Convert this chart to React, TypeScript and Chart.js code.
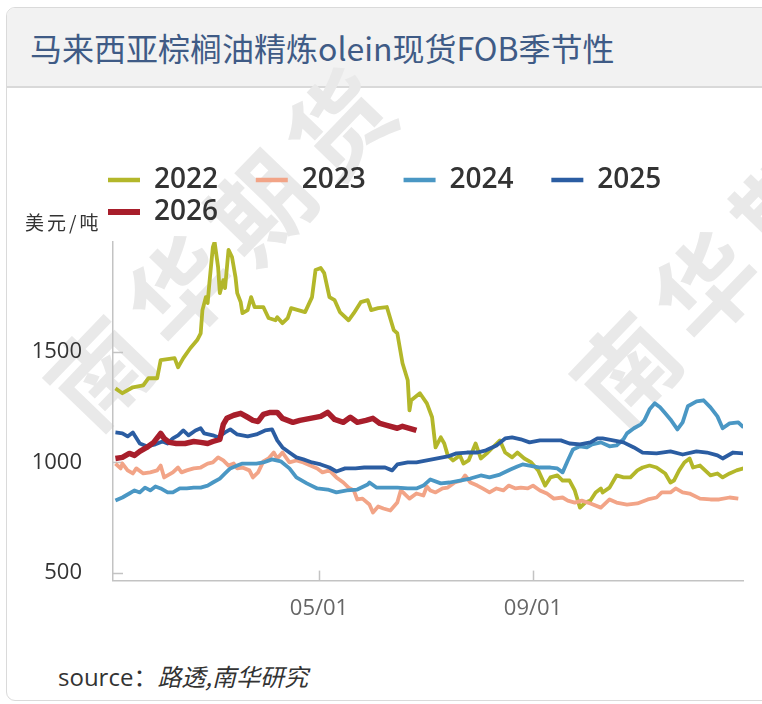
import React, { useEffect, useRef } from 'react';
import { Chart, registerables } from 'chart.js';

Chart.register(...registerables);

// ---- data (day of year, USD/t) ----
const seriesLabels = ['2022', '2023', '2024', '2025', '2026'];
const seriesColors = ['#b3b72a', '#f2a487', '#4a97c4', '#2b5da2', '#a81e2b'];
const seriesWidths = [3.8, 3.8, 3.8, 3.8, 5.5];

const s2022: [number, number][] = [
  [3, 1336], [7, 1314], [13, 1341], [19, 1350], [22, 1382], [27, 1382], [29, 1464], [37, 1473], [39, 1432], [42, 1473],
  [46, 1518], [50, 1555], [52, 1586], [53, 1691], [55, 1750], [56, 1723], [57, 1814], [59, 1977], [60, 2000], [62, 1886],
  [63, 1768], [65, 1827], [66, 1791], [68, 1964], [70, 1932], [72, 1841], [73, 1768], [75, 1727], [76, 1677], [79, 1691],
  [81, 1750], [83, 1705], [88, 1705], [91, 1655], [95, 1645], [96, 1659], [99, 1632], [102, 1655], [104, 1700], [108, 1691],
  [112, 1682], [116, 1750], [118, 1873], [121, 1882], [123, 1859], [126, 1750], [129, 1736], [132, 1682], [137, 1645], [140, 1677],
  [144, 1727], [148, 1736], [150, 1691], [154, 1700], [159, 1705], [163, 1600], [165, 1586], [168, 1450], [171, 1373], [172, 1236],
  [173, 1282], [178, 1314], [182, 1268], [185, 1205], [187, 1068], [190, 1114], [192, 1086], [194, 1032], [197, 1009], [201, 1032],
  [203, 995], [206, 1009], [210, 1086], [213, 1018], [217, 1045], [221, 1077], [224, 1100], [227, 1045], [231, 1023], [234, 1045],
  [238, 1018], [242, 1000], [246, 964], [250, 895], [253, 932], [257, 941], [260, 918], [264, 918], [267, 873], [270, 795],
  [273, 818], [276, 827], [279, 864], [282, 882], [283, 864], [287, 886], [291, 941], [295, 932], [299, 932], [303, 964],
  [306, 977], [310, 986], [314, 977], [319, 950], [322, 909], [324, 918], [327, 964], [330, 1000], [333, 1018], [335, 977],
  [339, 986], [345, 941], [349, 950], [352, 932], [356, 950], [360, 964], [364, 973],
];

const s2023: [number, number][] = [
  [3, 995], [6, 973], [7, 995], [10, 964], [13, 950], [15, 973], [19, 950], [23, 955], [27, 964], [29, 986],
  [31, 932], [36, 955], [39, 977], [41, 955], [44, 964], [48, 973], [52, 977], [56, 995], [59, 1000], [62, 1023],
  [65, 1009], [68, 986], [71, 995], [73, 973], [76, 977], [80, 964], [82, 932], [85, 955], [88, 1005], [91, 1018],
  [94, 1045], [96, 1018], [99, 1045], [103, 1000], [107, 1009], [111, 1000], [115, 986], [119, 973], [122, 955], [126, 964],
  [130, 932], [134, 909], [137, 886], [140, 873], [142, 832], [145, 836], [149, 809], [151, 773], [154, 800], [157, 791],
  [161, 782], [165, 818], [167, 873], [169, 859], [172, 836], [176, 859], [180, 850], [182, 891], [184, 873], [187, 864],
  [191, 882], [194, 886], [198, 909], [202, 918], [204, 941], [207, 909], [211, 895], [214, 882], [218, 864], [222, 882],
  [226, 873], [229, 895], [233, 882], [236, 886], [240, 882], [243, 895], [247, 873], [251, 859], [255, 836], [260, 841],
  [263, 827], [267, 818], [271, 827], [276, 814], [282, 795], [287, 832], [291, 818], [297, 809], [303, 814], [309, 832],
  [314, 841], [317, 864], [322, 864], [325, 882], [329, 864], [333, 859], [339, 836], [345, 832], [350, 832], [356, 841],
  [361, 836],
];

const s2024: [number, number][] = [
  [3, 827], [7, 841], [11, 859], [14, 873], [17, 864], [20, 886], [23, 873], [26, 891], [29, 882], [33, 864],
  [36, 864], [40, 882], [44, 882], [48, 886], [52, 886], [56, 895], [59, 909], [63, 927], [66, 950], [69, 973],
  [73, 986], [76, 995], [80, 995], [84, 995], [88, 1000], [93, 1014], [98, 1005], [103, 973], [107, 932], [113, 905],
  [119, 882], [125, 877], [130, 864], [136, 873], [142, 877], [148, 900], [149, 909], [153, 886], [159, 886], [165, 886],
  [171, 882], [176, 882], [180, 895], [184, 923], [190, 905], [195, 909], [201, 918], [207, 927], [213, 941], [218, 932],
  [224, 945], [230, 968], [234, 982], [237, 991], [241, 986], [247, 977], [253, 977], [257, 973], [260, 955], [263, 1009],
  [266, 1059], [270, 1073], [274, 1068], [277, 1082], [282, 1091], [287, 1073], [291, 1077], [295, 1105], [297, 1132], [301, 1155],
  [305, 1173], [307, 1191], [310, 1241], [313, 1268], [316, 1250], [319, 1223], [322, 1195], [326, 1150], [329, 1182], [332, 1255],
  [337, 1277], [341, 1282], [345, 1250], [349, 1209], [352, 1155], [356, 1177], [361, 1182], [364, 1159],
];

const s2025: [number, number][] = [
  [3, 1136], [7, 1132], [10, 1118], [13, 1136], [14, 1123], [17, 1086], [21, 1073], [26, 1082], [30, 1095], [33, 1086],
  [36, 1109], [39, 1123], [42, 1145], [45, 1123], [49, 1145], [52, 1155], [54, 1132], [59, 1123], [62, 1114], [66, 1136],
  [69, 1150], [73, 1127], [79, 1118], [84, 1127], [89, 1145], [93, 1150], [96, 1100], [99, 1068], [103, 1045], [107, 1023],
  [111, 1014], [116, 1000], [121, 991], [126, 977], [130, 959], [135, 973], [141, 973], [146, 977], [152, 977], [158, 977],
  [162, 964], [165, 991], [171, 1000], [176, 1000], [182, 1009], [188, 1018], [194, 1027], [199, 1041], [205, 1045], [211, 1045],
  [216, 1055], [222, 1077], [227, 1109], [231, 1114], [236, 1105], [241, 1091], [247, 1100], [253, 1100], [259, 1100], [264, 1086],
  [270, 1082], [276, 1091], [280, 1109], [283, 1109], [289, 1100], [295, 1091], [301, 1068], [306, 1045], [314, 1041], [322, 1050],
  [329, 1036], [337, 1050], [343, 1045], [349, 1032], [352, 1018], [358, 1045], [364, 1041],
];

const s2026: [number, number][] = [
  [3, 1018], [7, 1023], [11, 1041], [14, 1032], [17, 1050], [21, 1068], [25, 1091], [29, 1132], [31, 1109], [34, 1091],
  [38, 1086], [43, 1086], [48, 1095], [52, 1091], [56, 1086], [59, 1095], [63, 1105], [65, 1173], [67, 1200], [71, 1214],
  [75, 1223], [79, 1205], [82, 1191], [85, 1186], [88, 1218], [92, 1227], [96, 1227], [99, 1200], [105, 1182], [109, 1191],
  [115, 1200], [121, 1209], [125, 1227], [129, 1195], [134, 1182], [138, 1205], [142, 1182], [147, 1191], [151, 1200], [155, 1177],
  [159, 1168], [165, 1155], [168, 1164], [172, 1155], [176, 1145],
];

const allSeries = [s2022, s2023, s2024, s2025, s2026];

const yTickValues = [500, 1000, 1500];
const xTickDays = [120, 243];
const xTickLabels = ['05/01', '09/01'];

// ---- styles ----
const AXIS_COLOR = '#c3c3c3';
const legendFont = { family: '"Open Sans", "DejaVu Sans", sans-serif', size: 28, weight: '600' as const };

function padLabel(text: string): string {
  const c = document.createElement('canvas').getContext('2d');
  if (!c) return text;
  c.font = `${legendFont.weight} ${legendFont.size}px ${legendFont.family}`;
  const target = 98;
  let s = text;
  let guard = 0;
  for (const sp of [' ', '\u2009', '\u200A']) {
    while (c.measureText(s + sp).width <= target + 0.5 && guard < 60) {
      s += sp;
      guard++;
    }
  }
  return s;
}

const shiftLegend = {
  id: 'shiftLegend',
  afterLayout(chart: any) {
    const l = chart.legend;
    if (!l) return;
    l.left -= 9;
    l.right -= 9;
    l.top -= 6;
    l.bottom -= 6;
  },
};

const innerTicks = {
  id: 'innerTicks',
  beforeDatasetsDraw(chart: any) {
    const { ctx, chartArea, scales } = chart;
    ctx.save();
    ctx.strokeStyle = AXIS_COLOR;
    ctx.lineWidth = 1.5;
    scales.y.ticks.forEach((t: any) => {
      const y = Math.round(scales.y.getPixelForValue(t.value)) + 0.5;
      ctx.beginPath();
      ctx.moveTo(chartArea.left, y);
      ctx.lineTo(chartArea.left + 10, y);
      ctx.stroke();
    });
    scales.x.ticks.forEach((t: any) => {
      const x = Math.round(scales.x.getPixelForValue(t.value)) + 0.5;
      ctx.beginPath();
      ctx.moveTo(x, chartArea.bottom);
      ctx.lineTo(x, chartArea.bottom - 10);
      ctx.stroke();
    });
    ctx.restore();
  },
};

const watermarkStyle = (cx: number, cy: number): React.CSSProperties => ({
  position: 'absolute',
  left: cx,
  top: cy,
  transform: 'translate(-50%, -50%) rotate(-46deg)',
  fontFamily: '"Noto Sans CJK SC", sans-serif',
  fontWeight: 'bold',
  fontSize: 100,
  lineHeight: 1,
  letterSpacing: 15,
  color: '#e9e9e9',
  whiteSpace: 'nowrap',
  pointerEvents: 'none',
});

export default function App() {
  const canvasRef = useRef<HTMLCanvasElement | null>(null);

  useEffect(() => {
    if (!canvasRef.current) return;
    const datasets = allSeries.map((s, i) => ({
      label: seriesLabels[i],
      data: s.map(([d, v]) => ({ x: d, y: v })),
      borderColor: seriesColors[i],
      backgroundColor: seriesColors[i],
      borderWidth: seriesWidths[i],
      pointRadius: 0,
      tension: 0,
      fill: false,
      order: 4 - i,
      borderJoinStyle: 'round' as const,
    }));

    const chart = new Chart(canvasRef.current, {
      type: 'line',
      data: { datasets },
      options: {
        responsive: false,
        animation: false,
        events: [],
        layout: { padding: { top: 48, right: 11, bottom: 3, left: 0 } },
        plugins: {
          legend: {
            position: 'top',
            align: 'start',
            fullSize: false,
            labels: {
              usePointStyle: true,
              pointStyleWidth: 32,
              padding: 4,
              color: '#333333',
              font: legendFont,
              generateLabels: (ch: any) =>
                ch.data.datasets.map((ds: any, i: number) => ({
                  text: padLabel(ds.label),
                  fillStyle: ds.borderColor,
                  strokeStyle: ds.borderColor,
                  lineWidth: i === 4 ? 6 : 4.5,
                  pointStyle: 'line',
                  hidden: false,
                  datasetIndex: i,
                  fontColor: '#333333',
                })),
            },
          },
          tooltip: { enabled: false },
        },
        scales: {
          x: {
            type: 'linear',
            min: 1.6,
            max: 363.7,
            grid: { display: true, drawOnChartArea: false, drawTicks: false },
            border: { display: true, color: AXIS_COLOR, width: 1.5 },
            afterBuildTicks: (scale: any) => {
              scale.ticks = xTickDays.map((v) => ({ value: v }));
            },
            ticks: {
              autoSkip: false,
              maxRotation: 0,
              padding: 15,
              color: '#666666',
              font: { family: '"Open Sans", sans-serif', size: 22 },
              callback: (_v: any, idx: number) => xTickLabels[idx] ?? '',
            },
          },
          y: {
            type: 'linear',
            min: 464,
            max: 2000,
            grid: { display: true, drawOnChartArea: false, drawTicks: false },
            border: { display: true, color: AXIS_COLOR, width: 1.5 },
            afterBuildTicks: (scale: any) => {
              scale.ticks = yTickValues.map((v) => ({ value: v }));
            },
            afterFit: (scale: any) => {
              scale.width = 105;
            },
            ticks: {
              padding: 31,
              color: '#333333',
              font: { family: '"Open Sans", sans-serif', size: 22 },
              callback: (v: any) => String(v),
            },
          },
        },
      },
      plugins: [shiftLegend, innerTicks],
    } as any);

    return () => chart.destroy();
  }, []);

  return (
    <div
      style={{
        position: 'absolute',
        left: 0,
        top: 0,
        width: 762,
        height: 704,
        overflow: 'hidden',
        background: '#ffffff',
      }}
    >
      <div
        style={{
          position: 'absolute',
          left: 6,
          top: 7,
          width: 780,
          height: 694,
          border: '1.5px solid #dadada',
          borderRadius: 9,
          background: '#ffffff',
          overflow: 'hidden',
          boxSizing: 'border-box',
        }}
      >
        <div
          style={{
            height: 80,
            background: '#f2f2f2',
            borderBottom: '2px solid #d9d9d9',
            boxSizing: 'border-box',
            display: 'flex',
            alignItems: 'center',
            paddingLeft: 23,
          }}
        >
          <span
            style={{
              fontFamily: '"Noto Sans CJK SC", sans-serif',
              fontSize: 32,
              color: '#3f5b86',
              lineHeight: 1,
              whiteSpace: 'nowrap',
            }}
          >
            马来西亚棕榈油精炼olein现货FOB季节性
          </span>
        </div>
      </div>

      <div style={watermarkStyle(222, 240)}>南华期货</div>
      <div style={watermarkStyle(748, 236)}>南华期货</div>

      <canvas
        ref={canvasRef}
        width={746}
        height={520}
        style={{ position: 'absolute', left: 8, top: 120, width: 746, height: 520 }}
      />

      <div
        style={{
          position: 'absolute',
          left: 25,
          top: 212,
          fontFamily: '"Noto Sans CJK SC", sans-serif',
          fontSize: 19,
          lineHeight: 1,
          color: '#333333',
          letterSpacing: 3,
          whiteSpace: 'nowrap',
        }}
      >
        美元/吨
      </div>

      <div
        style={{
          position: 'absolute',
          left: 58,
          top: 664,
          fontFamily: '"Open Sans", "Noto Sans CJK SC", sans-serif',
          fontSize: 24,
          lineHeight: 1,
          color: '#333333',
          whiteSpace: 'nowrap',
        }}
      >
        source：<i style={{ fontFamily: '"Noto Sans CJK SC", sans-serif' }}>路透,南华研究</i>
      </div>
    </div>
  );
}
